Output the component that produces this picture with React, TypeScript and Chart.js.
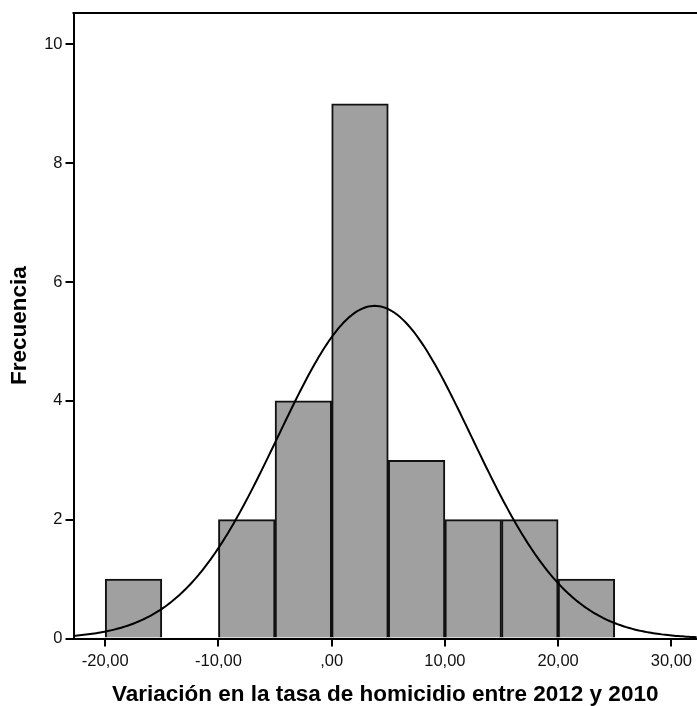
import React, { useEffect, useRef } from "react";
import { Chart, registerables } from "chart.js";

Chart.register(...registerables);

// Histogram bins (left edges, width 5) and frequencies
const BIN_STARTS = [-20, -15, -10, -5, 0, 5, 10, 15, 20];
const BIN_WIDTH = 5;
const COUNTS = [1, 0, 2, 4, 9, 3, 2, 2, 1];

// Fitted normal curve parameters (SPSS overlay)
const CURVE_MEAN = 3.8;
const CURVE_SD = 8.55;
const CURVE_N = 24;

// Axis ticks and labels
const X_TICKS = [-20, -10, 0, 10, 20, 30];
const X_TICK_LABELS = ["-20,00", "-10,00", ",00", "10,00", "20,00", "30,00"];
const Y_TICKS = [0, 2, 4, 6, 8, 10];
const X_MIN = -22.8;
const X_MAX = 32.25;
const Y_MAX = 10.53;

const X_TITLE = "Variación en la tasa de homicidio entre 2012 y 2010";
const Y_TITLE = "Frecuencia";

const FONT = "'Liberation Sans', Arial, Helvetica, sans-serif";

function normalCurve() {
  const pts: { x: number; y: number }[] = [];
  const steps = 300;
  for (let i = 0; i <= steps; i++) {
    const x = X_MIN + ((X_MAX - X_MIN) * i) / steps;
    const z = (x - CURVE_MEAN) / CURVE_SD;
    const y = (CURVE_N * BIN_WIDTH) / (CURVE_SD * Math.sqrt(2 * Math.PI)) * Math.exp(-0.5 * z * z);
    pts.push({ x, y });
  }
  return pts;
}

const framePlugin = {
  id: "frameTop",
  afterDatasetsDraw(chart: any) {
    const { ctx, chartArea } = chart;
    ctx.save();
    ctx.strokeStyle = "#000";
    ctx.lineWidth = 2;
    ctx.beginPath();
    ctx.moveTo(chartArea.left - 1, chartArea.top);
    ctx.lineTo(chartArea.right + 2, chartArea.top);
    ctx.stroke();
    ctx.restore();
  },
};

export default function App() {
  const ref = useRef<HTMLCanvasElement | null>(null);

  useEffect(() => {
    if (!ref.current) return;
    const bars = BIN_STARTS.map((s, i) => ({ x: s + BIN_WIDTH / 2, y: COUNTS[i] }));
    const chart = new Chart(ref.current, {
      type: "bar",
      data: {
        datasets: [
          {
            type: "line",
            data: normalCurve(),
            borderColor: "#000",
            borderWidth: 2,
            pointRadius: 0,
            tension: 0,
            order: 0,
          } as any,
          {
            type: "bar",
            data: bars,
            backgroundColor: "#a0a0a0",
            borderColor: "#111",
            borderWidth: 2,
            barPercentage: 1,
            categoryPercentage: 1,
            grouped: false,
            order: 1,
          } as any,
        ],
      },
      options: {
        animation: false,
        responsive: true,
        maintainAspectRatio: false,
        layout: { padding: { top: 11, right: 0, left: 0, bottom: 0 } },
        plugins: { legend: { display: false }, tooltip: { enabled: false } },
        scales: {
          x: {
            type: "linear",
            offset: false,
            min: X_MIN,
            max: X_MAX,
            afterBuildTicks: (scale: any) => {
              scale.ticks = X_TICKS.map((v) => ({ value: v }));
            },
            afterFit: (scale: any) => {
              scale.height = 67.5;
            },
            ticks: {
              color: "#111",
              font: { family: FONT, size: 16.5 },
              padding: 5,
              maxRotation: 0,
              autoSkip: false,
              callback: (v: any) => {
                const i = X_TICKS.indexOf(Number(v));
                return i >= 0 ? X_TICK_LABELS[i] : "";
              },
            },
            grid: {
              display: true,
              offset: false,
              drawOnChartArea: false,
              drawTicks: true,
              tickLength: 8,
              color: "#000",
              lineWidth: 2,
            },
            border: { display: true, color: "#000", width: 2 },
            title: {
              display: true,
              text: X_TITLE,
              color: "#000",
              font: { family: FONT, size: 22.5, weight: "bold", lineHeight: 1 },
              padding: { top: 0, bottom: 0 },
            },
          },
          y: {
            type: "linear",
            min: 0,
            max: Y_MAX,
            afterBuildTicks: (scale: any) => {
              scale.ticks = Y_TICKS.map((v) => ({ value: v }));
            },
            afterFit: (scale: any) => {
              scale.width = 73.5;
            },
            ticks: {
              color: "#111",
              font: { family: FONT, size: 16.5 },
              padding: 3,
              callback: (v: any) => String(v),
            },
            grid: {
              display: true,
              drawOnChartArea: false,
              drawTicks: true,
              tickLength: 8,
              color: "#000",
              lineWidth: 2,
            },
            border: { display: true, color: "#000", width: 2 },
            title: {
              display: true,
              text: Y_TITLE,
              color: "#000",
              font: { family: FONT, size: 22.5, weight: "bold" },
              padding: { top: 6, bottom: 0 },
            },
          },
        },
      },
      plugins: [framePlugin],
    });
    return () => chart.destroy();
  }, []);

  return (
    <div style={{ position: "absolute", left: 0, top: 0, width: 697, height: 706, background: "#fff" }}>
      <canvas ref={ref} />
    </div>
  );
}
